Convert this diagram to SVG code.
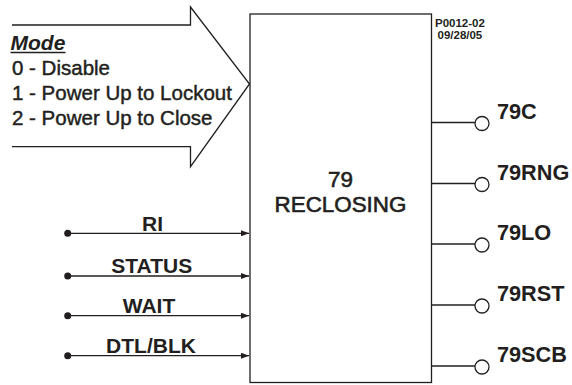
<svg xmlns="http://www.w3.org/2000/svg" width="572" height="385" viewBox="0 0 572 385">
<style>
text{font-family:"Liberation Sans",Arial,Helvetica,sans-serif;fill:#231f20}
.mode{font-size:20.5px;stroke:#231f20;stroke-width:0.45}
.title{font-size:22.4px;text-anchor:middle;stroke:#231f20;stroke-width:0.6}
.in{font-size:21px;font-weight:bold;text-anchor:middle}
.out{font-size:21.7px;font-weight:bold}
.ln{stroke:#231f20;stroke-width:1.3;fill:none}
.pin{fill:#fff;stroke:#231f20;stroke-width:1.3}
.dot{fill:#231f20}
</style>
<defs>
<marker id="ah" markerWidth="8" markerHeight="6" refX="8" refY="3" orient="auto" markerUnits="userSpaceOnUse">
<path d="M0,0 L8,3 L0,6 Z" fill="#231f20"/>
</marker>
</defs>
<g id="mode">
<path class="ln" d="M12,25 H190.5 V7 L249.5,84 L190.5,166.7 V146.7 H12"/>
<text x="10.5" y="50" style="font-size:21px;font-weight:bold;font-style:italic">Mode</text>
<line x1="10.5" y1="52.5" x2="65.5" y2="52.5" stroke="#231f20" stroke-width="1.6"/>
<text class="mode" x="12" y="75">0 - Disable</text>
<text class="mode" x="12" y="100">1 - Power Up to Lockout</text>
<text class="mode" x="12" y="125">2 - Power Up to Close</text>
</g>
<g id="reclosing">
<rect class="ln" x="250" y="14" width="181.5" height="368.5"/>
<text class="title" x="340.5" y="186.5">79</text>
<text class="title" x="340.5" y="211.5">RECLOSING</text>
</g>
<g id="ref">
<text x="435" y="26.5" style="font-size:11.5px;font-weight:bold">P0012-02</text>
<text x="437.5" y="38.5" style="font-size:11.5px;font-weight:bold">09/28/05</text>
</g>
<g id="connectors">
<line class="ln" x1="67.7" y1="233.3" x2="249" y2="233.3" marker-end="url(#ah)"/>
<line class="ln" x1="67.7" y1="276" x2="249" y2="276" marker-end="url(#ah)"/>
<line class="ln" x1="67.7" y1="315.7" x2="249" y2="315.7" marker-end="url(#ah)"/>
<line class="ln" x1="67.7" y1="355.7" x2="249" y2="355.7" marker-end="url(#ah)"/>
<line class="ln" x1="431.5" y1="122.5" x2="475" y2="122.5"/>
<line class="ln" x1="431.5" y1="183.5" x2="475" y2="183.5"/>
<line class="ln" x1="431.5" y1="244" x2="475" y2="244"/>
<line class="ln" x1="431.5" y1="305" x2="475" y2="305"/>
<line class="ln" x1="431.5" y1="366" x2="475" y2="366"/>
</g>
<g id="in-ri"><circle class="dot" cx="67.7" cy="233.3" r="3.5"/><text class="in" x="152.5" y="230.5">RI</text></g>
<g id="in-status"><circle class="dot" cx="67.7" cy="276" r="3.5"/><text class="in" x="151.7" y="272.7">STATUS</text></g>
<g id="in-wait"><circle class="dot" cx="67.7" cy="315.7" r="3.5"/><text class="in" x="149" y="312.5">WAIT</text></g>
<g id="in-dtl"><circle class="dot" cx="67.7" cy="355.7" r="3.5"/><text class="in" x="151" y="352.5">DTL/BLK</text></g>
<g id="out-79c"><circle class="pin" cx="482" cy="123.5" r="7"/><text class="out" x="497" y="118.5">79C</text></g>
<g id="out-79rng"><circle class="pin" cx="482" cy="184.5" r="7"/><text class="out" x="497" y="179.5">79RNG</text></g>
<g id="out-79lo"><circle class="pin" cx="482" cy="245" r="7"/><text class="out" x="497" y="240">79LO</text></g>
<g id="out-79rst"><circle class="pin" cx="482" cy="306" r="7"/><text class="out" x="497" y="301">79RST</text></g>
<g id="out-79scb"><circle class="pin" cx="482" cy="367" r="7"/><text class="out" x="497" y="362">79SCB</text></g>
</svg>
